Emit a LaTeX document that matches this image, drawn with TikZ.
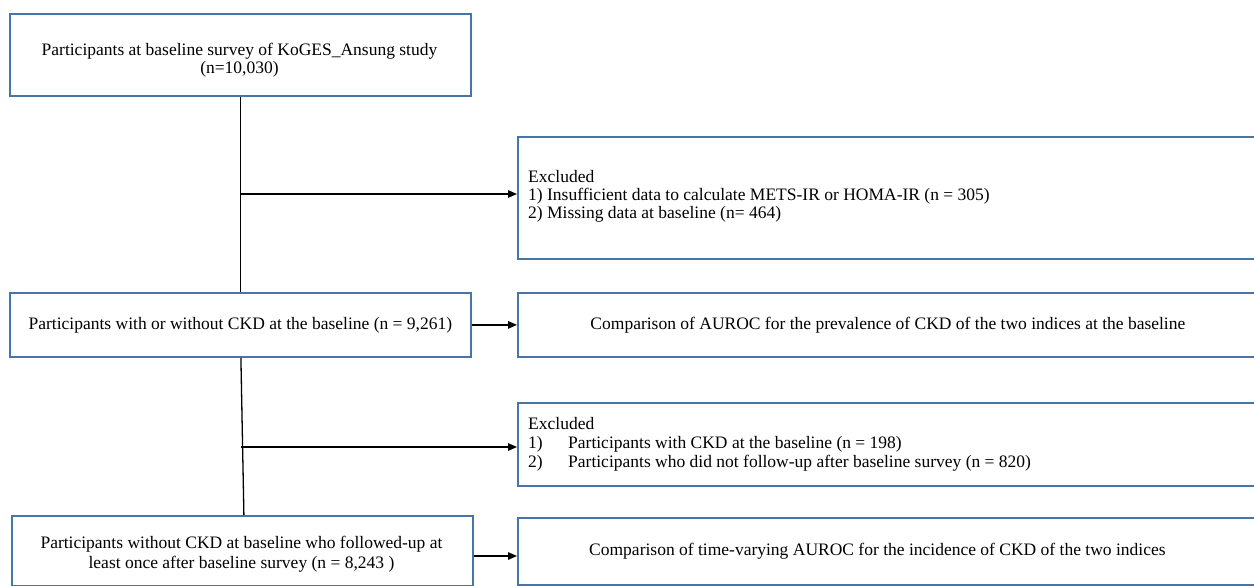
\documentclass[tikz,border=0pt]{standalone}
\usepackage{fontspec}
\setmainfont{Liberation Serif}
\usetikzlibrary{arrows.meta}
\definecolor{boxblue}{RGB}{72,117,168}
\tikzset{
  box/.style={draw=boxblue, line width=1.8pt, fill=white, anchor=north west, inner sep=0pt,
    font=\fontsize{17.5}{20}\selectfont},
  cbox/.style={box, align=center},
  txt/.style={inner sep=0pt, font=\fontsize{17.5}{#1}\selectfont},
  conn/.style={draw=black, line width=1.3pt},
  arr/.style={conn, -{Triangle[length=9pt,width=7.5pt]}}
}
\begin{document}
\begin{tikzpicture}[x=1pt,y=-1pt]
\useasboundingbox (0,0) rectangle (1254,586);
% main column
\node[box, minimum width=461pt, minimum height=82pt] (b1) at (9,13) {};
\node[txt=18.5, align=center] (b1t) at (239.5,60)
  {Participants at baseline survey of KoGES\_Ansung study\\(n=10,030)};
\node[cbox, minimum width=461pt, minimum height=64pt] (b2) at (9,292)
  {Participants with or without CKD at the baseline (n = 9,261)};
\node[box, minimum width=461pt, minimum height=70pt] (b4) at (11,515) {};
\node[txt=20, align=center] (b4t) at (241.5,554)
  {Participants without CKD at baseline who followed-up at\\least once after baseline survey (n = 8,243 )};
% right column
\node[box, minimum width=737pt, minimum height=122pt] (e1) at (517,136) {};
\node[txt=18, anchor=west, align=left] (e1t) at (528,196)
  {Excluded\\1) Insufficient data to calculate METS-IR or HOMA-IR (n = 305)\\2) Missing data at baseline (n= 464)};
\node[cbox, minimum width=740pt, minimum height=64pt] (b3) at (517,292)
  {Comparison of AUROC for the prevalence of CKD of the two indices at the baseline};
\node[box, minimum width=737pt, minimum height=83pt] (e2) at (517,402) {};
\node[txt=19, anchor=west, align=left] (e2t) at (528,444)
  {Excluded\\\makebox[40pt][l]{1)}Participants with CKD at the baseline (n = 198)\\\makebox[40pt][l]{2)}Participants who did not follow-up after baseline survey (n = 820)};
\node[cbox, minimum width=737pt, minimum height=67pt] (b5) at (517,517)
  {\hspace*{-18pt}Comparison of time-varying AUROC for the incidence of CKD of the two indices};
% connectors
\draw[conn] (b1.south) -- (b2.north);
\coordinate (j1) at (b1.south |- 0,194);
\draw[arr] (j1) -- (e1.west |- j1);
\draw[arr] (b2.east) -- (b3.west);
\draw[conn] ([xshift=0.5pt]b2.south) -- ([xshift=1.5pt]b4.north);
\coordinate (j2) at (240.5,447);
\draw[arr] (j2) -- (e2.west |- j2);
\coordinate (j3) at (b4.east |- 0,556);
\draw[arr] (j3) -- (b5.west |- j3);
\end{tikzpicture}
\end{document}
